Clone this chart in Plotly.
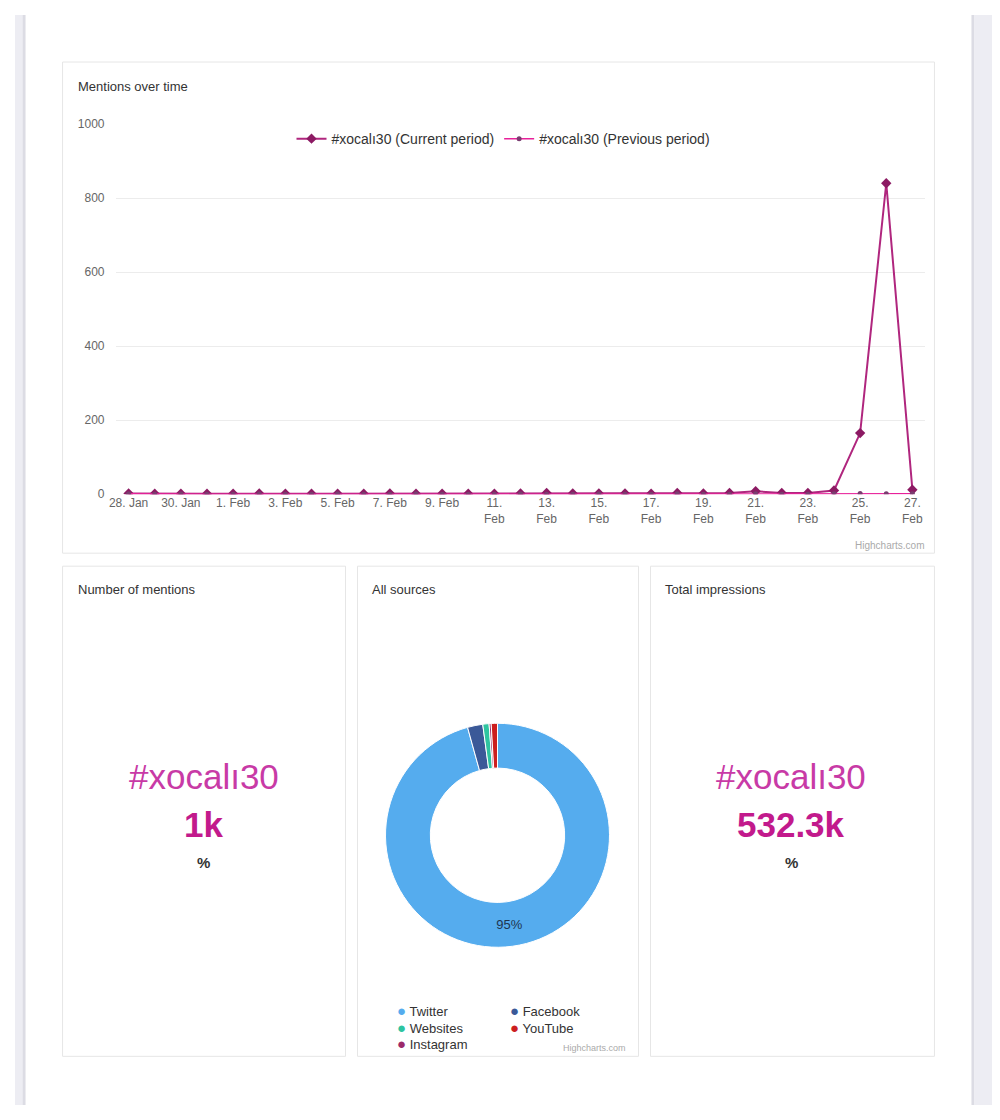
import plotly.graph_objects as go
import pandas as pd

# page is 1000x1120; the browser body keeps its 8px margin
PAD = 8
W, H = 1000 - 2 * PAD, 1120 - 2 * PAD

# --- data ---
dates = pd.date_range("2024-01-28", "2024-02-27", freq="D")
current_period = [2, 1, 1, 1, 1, 2, 1, 1, 1, 1, 2, 1, 1, 1, 1, 2,
                  3, 2, 2, 2, 1, 3, 2, 3, 8, 3, 3, 10, 165, 840, 12]
previous_period = [1, 0, 1, 0, 0, 1, 0, 0, 1, 0, 0, 1, 0, 0, 0, 1,
                   0, 0, 1, 0, 0, 1, 0, 0, 1, 0, 0, 1, 2, 1, 1]
tick_dates = dates[::2]
tick_labels = ["28. Jan", "30. Jan", "1. Feb", "3. Feb", "5. Feb", "7. Feb",
               "9. Feb", "11.<br>Feb", "13.<br>Feb", "15.<br>Feb", "17.<br>Feb",
               "19.<br>Feb", "21.<br>Feb", "23.<br>Feb", "25.<br>Feb", "27.<br>Feb"]
y_ticks = [0, 200, 400, 600, 800, 1000]

sources = ["Twitter", "Facebook", "Websites", "Instagram", "YouTube"]
source_values = [955, 22, 9, 3, 9]
source_colors = ["#55acee", "#3b5998", "#2ec4a0", "#9c2a6a", "#cc1f1f"]
source_text = ["95%", "", "", "", ""]

keyword = "#xocalı30"
mentions_total = "1k"
impressions_total = "532.3k"


# screen pixel -> paper fraction (small correction for how the page gets captured)
def px(x):
    X = (x - 6.5) / 0.993
    return max(0, min(1, (X - PAD) / W))


def py(y):
    Y = (y - 7.1) / 0.987
    return max(0, min(1, 1 - (Y - PAD) / H))


fig = go.Figure()

fig.add_trace(go.Scatter(
    x=dates, y=current_period, name=keyword + " (Current period)",
    mode="lines+markers",
    line=dict(color="#b0267e", width=2),
    marker=dict(symbol="diamond", size=8, color="#8c1a63"),
))
fig.add_trace(go.Scatter(
    x=dates, y=previous_period, name=keyword + " (Previous period)",
    mode="lines+markers",
    line=dict(color="#e8209a", width=1.5),
    marker=dict(symbol="circle", size=5, color="#7a3d70"),
))

fig.add_trace(go.Pie(
    labels=sources, values=source_values, sort=False, direction="clockwise",
    rotation=0, hole=0.6, showlegend=False,
    marker=dict(colors=source_colors, line=dict(color="white", width=1)),
    text=source_text, textinfo="text", textposition="inside",
    insidetextorientation="horizontal",
    textfont=dict(size=13, color="#1e3550"),
    domain=dict(x=[px(385), px(609)], y=[py(947), py(723)]),
    hoverinfo="label+value",
))

day = pd.Timedelta(hours=12)
fig.update_layout(
    width=W, height=H,
    margin=dict(l=0, r=0, t=0, b=0),
    paper_bgcolor="white", plot_bgcolor="white",
    font=dict(family="Liberation Sans, Arial, sans-serif", color="#333"),
    xaxis=dict(
        domain=[px(115), px(925)],
        range=[dates[0] - day, dates[-1] + day],
        tickvals=tick_dates, ticktext=tick_labels,
        tickfont=dict(size=12, color="#666"),
        showgrid=False, zeroline=False, showline=False,
        ticks="", fixedrange=True,
    ),
    yaxis=dict(
        domain=[py(494), py(124)],
        range=[0, 1000], tickvals=y_ticks,
        tickfont=dict(size=12, color="#666"),
        showgrid=True, gridcolor="#ececec", gridwidth=1,
        zeroline=False, ticks="", ticklabelstandoff=10,
    ),
    legend=dict(
        orientation="h", x=0.5, xanchor="center", y=py(139), yanchor="middle",
        font=dict(size=14, color="#333"), bgcolor="rgba(0,0,0,0)",
        itemwidth=30,
    ),
)

# page frame and cards
P = dict(xref="paper", yref="paper")
shapes = [
    dict(type="rect", x0=0, x1=px(22), y0=0, y1=1, fillcolor="#ededf3", line_width=0, layer="below", **P),
    dict(type="rect", x0=px(22), x1=px(25), y0=0, y1=1, fillcolor="#dcdce4", line_width=0, layer="below", **P),
    dict(type="rect", x0=px(971), x1=px(974), y0=0, y1=1, fillcolor="#dcdce4", line_width=0, layer="below", **P),
    dict(type="rect", x0=px(974), x1=1, y0=0, y1=1, fillcolor="#ededf3", line_width=0, layer="below", **P),
]
cards = [(62, 934, 62, 553), (62, 345, 566, 1056), (357, 638, 566, 1056), (650, 934, 566, 1056)]
for x0, x1, y0, y1 in cards:
    shapes.append(dict(type="rect", x0=px(x0), x1=px(x1), y0=py(y1), y1=py(y0),
                       line=dict(color="#e6e6e6", width=1), fillcolor="rgba(0,0,0,0)",
                       layer="below", **P))
fig.update_layout(shapes=shapes)

ann = []


def label(x, y, text, size, color="#333", anchor="left", **kw):
    ann.append(dict(x=px(x), y=py(y), xref="paper", yref="paper", text=text,
                    showarrow=False, xanchor=anchor, yanchor="middle",
                    font=dict(size=size, color=color, **kw)))


label(75, 86, "Mentions over time", 13)
label(75, 589, "Number of mentions", 13)
label(369, 589, "All sources", 13)
label(663, 589, "Total impressions", 13)
label(926, 545, "Highcharts.com", 10, "#aaa", anchor="right")
label(628, 1048, "Highcharts.com", 9, "#aaa", anchor="right")

for cx, value in [(203, mentions_total), (791, impressions_total)]:
    label(cx, 776, keyword, 35, "#c83aa6", anchor="center")
    label(cx, 824, "<b>" + value + "</b>", 35, "#c21a8c", anchor="center")
    label(cx, 862, "<b>%</b>", 15, "#333", anchor="center")

legend_pos = [(394, 1010), (508, 1010), (394, 1027), (394, 1043), (508, 1027)]
for name, color, (lx, ly) in zip(sources, source_colors, legend_pos):
    label(lx, ly, "<span style='color:%s;font-size:15px'>●</span> %s" % (color, name), 13, "#333")

fig.update_layout(annotations=ann)

fig.write_html("out.html", config=dict(displayModeBar=False))
